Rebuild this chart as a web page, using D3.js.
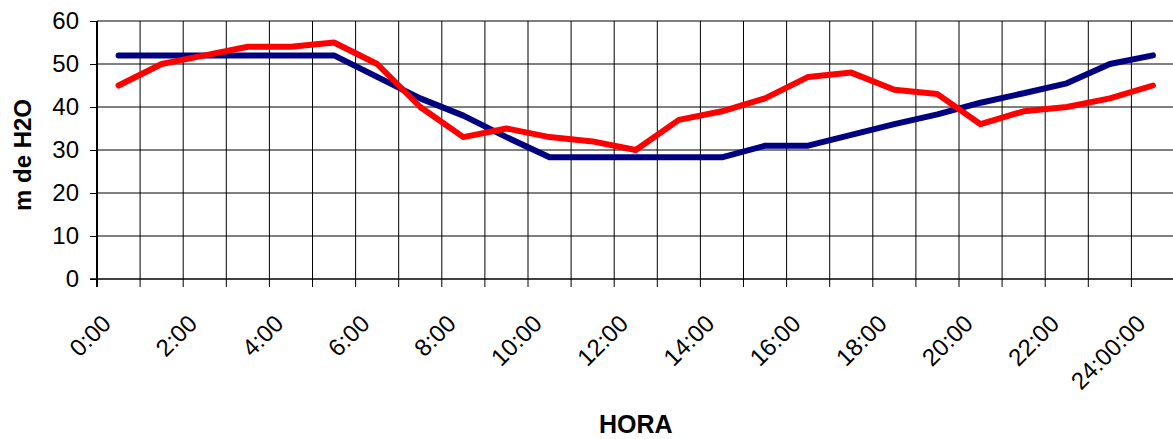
<!DOCTYPE html>
<html>
<head>
<meta charset="utf-8">
<script src="https://cdn.jsdelivr.net/npm/d3@7"></script>
<style>
  html, body { margin: 0; padding: 0; background: #fff; }
  svg { display: block; font-family: Arial, "Liberation Sans", sans-serif; }
</style>
</head>
<body>
<svg id="chart" width="1173" height="439"></svg>
<script>
const categories = ["0:00","1:00","2:00","3:00","4:00","5:00","6:00","7:00","8:00","9:00","10:00","11:00",
  "12:00","13:00","14:00","15:00","16:00","17:00","18:00","19:00","20:00","21:00","22:00","23:00","24:00:00"];
const seriesBlue = [52,52,52,52,52,52,47,42,38,33,28.3,28.3,28.3,28.3,28.3,31,31,33.5,36,38.3,41,43.2,45.5,50,52];
const seriesRed  = [45,50,52,54,54,55,50,40,33,35,33,32,30,37,39,42,47,48,44,43,36,39,40,42,45];
const yTicks = [0,10,20,30,40,50,60];
const xLabels = categories.filter((c, i) => i % 2 === 0);
const yTitle = "m de H2O";
const xTitle = "HORA";

(function () {
const svg = d3.select("#chart");
const pLeft = 97, pTop = 21, pBottom = 279, bandW = 43.1;
const pRight = pLeft + bandW * categories.length;

const x = d3.scaleBand().domain(categories).range([pLeft, pRight]).padding(0);
const y = d3.scaleLinear().domain([0, 60]).range([pBottom, pTop]);

// horizontal grid
svg.append("g").selectAll("line").data(yTicks.filter(d => d > 0)).join("line")
  .attr("x1", pLeft).attr("x2", pRight)
  .attr("y1", d => y(d)).attr("y2", d => y(d))
  .attr("stroke", "#000").attr("stroke-width", 1);

// vertical grid at band boundaries
const bounds = categories.slice(1).map(c => x(c));
svg.append("g").selectAll("line").data(bounds).join("line")
  .attr("x1", d => d).attr("x2", d => d)
  .attr("y1", pTop).attr("y2", pBottom)
  .attr("stroke", "#000").attr("stroke-width", 1);

// x ticks (at boundaries, below axis)
svg.append("g").selectAll("line").data([pLeft, ...bounds]).join("line")
  .attr("x1", d => d).attr("x2", d => d)
  .attr("y1", pBottom).attr("y2", pBottom + 8)
  .attr("stroke", "#000").attr("stroke-width", 1);

// y axis
const yAxis = svg.append("g").attr("transform", `translate(${pLeft},0)`)
  .call(d3.axisLeft(y).tickValues(yTicks).tickSize(7).tickPadding(11).tickFormat(d3.format("d")));
yAxis.select(".domain").remove();
yAxis.selectAll("line").attr("stroke", "#000");
yAxis.selectAll("text").attr("font-size", 24).attr("fill", "#000")
  .attr("font-family", 'Arial, "Liberation Sans", sans-serif');

// axis lines
svg.append("line").attr("x1", pLeft).attr("x2", pLeft).attr("y1", pTop).attr("y2", pBottom + 8)
  .attr("stroke", "#000").attr("stroke-width", 2);
svg.append("line").attr("x1", pLeft - 7).attr("x2", pRight).attr("y1", pBottom).attr("y2", pBottom)
  .attr("stroke", "#000").attr("stroke-width", 1.5);

// x axis labels
const xAxis = svg.append("g").attr("transform", `translate(0,${pBottom})`)
  .call(d3.axisBottom(x).tickValues(xLabels).tickSize(0).tickPadding(0));
xAxis.select(".domain").remove();
xAxis.selectAll(".tick text")
  .attr("font-size", 24).attr("fill", "#000")
  .attr("font-family", 'Arial, "Liberation Sans", sans-serif')
  .attr("text-anchor", "end")
  .attr("y", 0).attr("dy", 0)
  .attr("transform", "translate(-6,46) rotate(-45)");

// lines
const line = d3.line().x((d, i) => x(categories[i]) + x.bandwidth() / 2).y(d => y(d));
svg.append("path").datum(seriesBlue).attr("d", line)
  .attr("fill", "none").attr("stroke", "#000080").attr("stroke-width", 6)
  .attr("stroke-linejoin", "round").attr("stroke-linecap", "round");
svg.append("path").datum(seriesRed).attr("d", line)
  .attr("fill", "none").attr("stroke", "#FF0000").attr("stroke-width", 6)
  .attr("stroke-linejoin", "round").attr("stroke-linecap", "round");

// titles
svg.append("text").attr("transform", `translate(31,155) rotate(-90)`)
  .attr("text-anchor", "middle").attr("font-size", 24).attr("font-weight", "bold")
  .text(yTitle);
svg.append("text").attr("x", (pLeft + pRight) / 2).attr("y", 432.5)
  .attr("text-anchor", "middle").attr("font-size", 25).attr("font-weight", "bold")
  .text(xTitle);
})();
</script>
</body>
</html>
